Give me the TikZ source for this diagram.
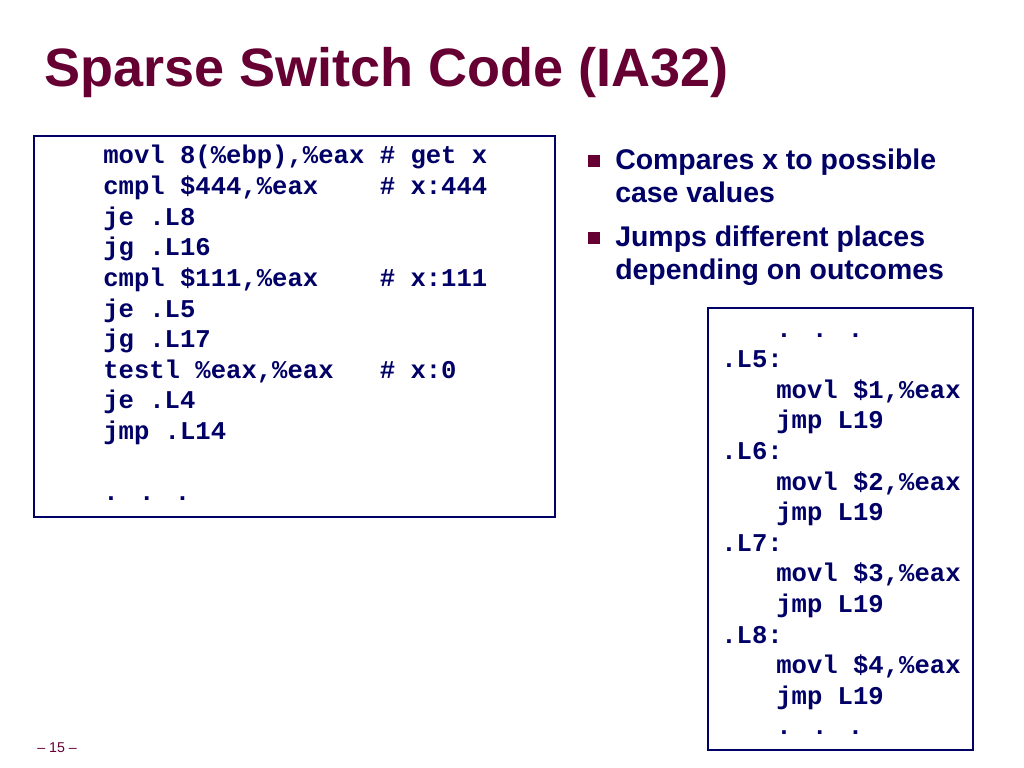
\documentclass[tikz,border=0pt]{standalone}
\usepackage{fontspec}
\setmainfont{Liberation Sans}
\newfontfamily\codefont{Liberation Mono}
\definecolor{maroon}{RGB}{102,0,51}
\definecolor{navy}{RGB}{0,0,102}
\begin{document}
\begin{tikzpicture}[x=0.703125pt,y=-0.703125pt,
  code/.style={anchor=base west,inner sep=0pt,font=\codefont\bfseries\fontsize{18}{21.6}\selectfont,text=navy},
  btext/.style={anchor=base west,inner sep=0pt,font=\bfseries\fontsize{20}{24}\selectfont,text=navy},
  codebox/.style={draw=navy,line width=0.9pt},
  sq/.style={fill=maroon,minimum size=8.4pt,inner sep=0pt}]
\useasboundingbox[fill=white] (0,0) rectangle (1024,768);
% title
\node[anchor=base west,inner sep=0pt,font=\bfseries\fontsize{38}{45}\selectfont,text=maroon] (title) at (44,87) {Sparse Switch Code (IA32)};
% left code box
\draw[codebox] (34,136) rectangle (555,517);
\node[code] (l1) at (103,164.0) {movl 8(\%ebp),\%eax};
\node[code] (c1) at (379.5,164.0) {\# get x};
\node[code] (l2) at (103,194.6) {cmpl \$444,\%eax};
\node[code] (c2) at (379.5,194.6) {\# x:444};
\node[code] (l3) at (103,225.2) {je .L8};
\node[code] (l4) at (103,255.8) {jg .L16};
\node[code] (l5) at (103,286.4) {cmpl \$111,\%eax};
\node[code] (c5) at (379.5,286.4) {\# x:111};
\node[code] (l6) at (103,317.0) {je .L5};
\node[code] (l7) at (103,347.6) {jg .L17};
\node[code] (l8) at (103,378.2) {testl \%eax,\%eax};
\node[code] (c8) at (379.5,378.2) {\# x:0};
\node[code] (l9) at (103,408.8) {je .L4};
\node[code] (l10) at (103,439.4) {jmp .L14};
\node[code] (l12) at (103,500.6) {. . .};
% bullets
\node[sq] (b1) at (594,161) {};
\node[btext] (t1a) at (615,170) {Compares x to possible};
\node[btext] (t1b) at (615,203) {case values};
\node[sq] (b2) at (594,238) {};
\node[btext] (t2a) at (615,247) {Jumps different places};
\node[btext] (t2b) at (615,280) {depending on outcomes};
% right code box
\draw[codebox] (708,308) rectangle (973,750);
\node[code] (r0) at (776,337.0) {. . .};
\node[code] (r1) at (721,367.6) {.L5:};
\node[code] (r2) at (776,398.2) {movl \$1,\%eax};
\node[code] (r3) at (776,428.8) {jmp L19};
\node[code] (r4) at (721,459.4) {.L6:};
\node[code] (r5) at (776,490.0) {movl \$2,\%eax};
\node[code] (r6) at (776,520.6) {jmp L19};
\node[code] (r7) at (721,551.2) {.L7:};
\node[code] (r8) at (776,581.8) {movl \$3,\%eax};
\node[code] (r9) at (776,612.4) {jmp L19};
\node[code] (r10) at (721,643.0) {.L8:};
\node[code] (r11) at (776,673.6) {movl \$4,\%eax};
\node[code] (r12) at (776,704.2) {jmp L19};
\node[code] (r13) at (776,734.8) {. . .};
% footer
\node[anchor=base west,inner sep=0pt,font=\fontsize{10}{12}\selectfont,text=maroon] (pg) at (37,752) {\textendash{} 15 \textendash};
\end{tikzpicture}
\end{document}
